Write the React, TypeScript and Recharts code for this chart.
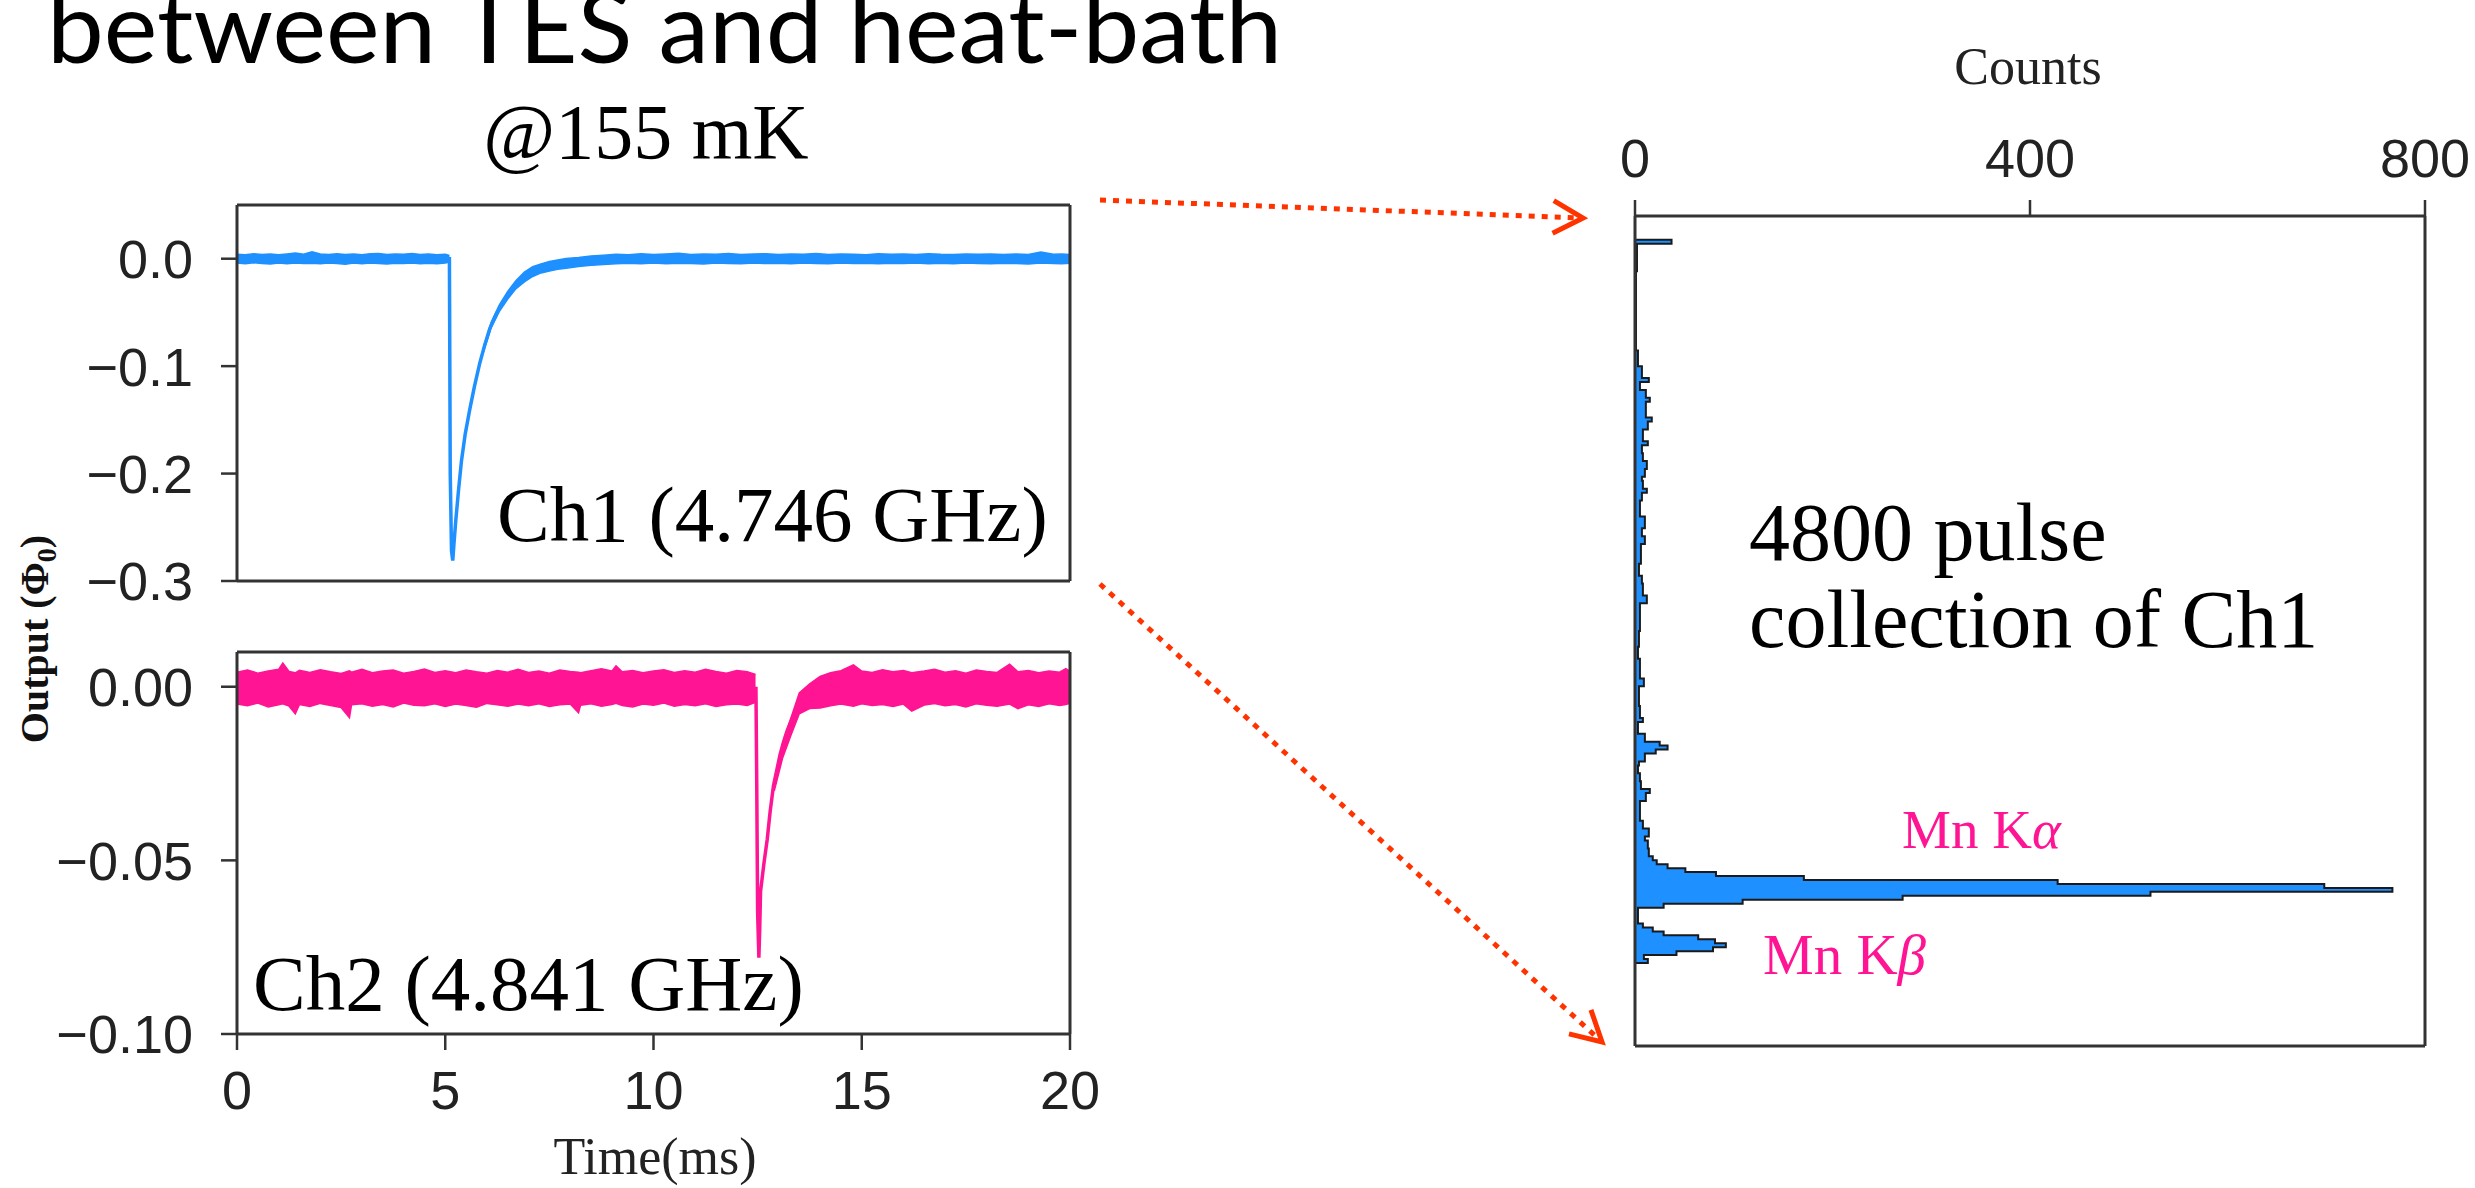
import React from 'react';
import { ComposedChart, Line, Area, XAxis, YAxis } from 'recharts';

const BLUE = '#1E90FF';
const PINK = '#FF1493';
const AXIS = '#333333';
const SANS = '"Liberation Sans", Arial, Helvetica, sans-serif';
const SERIF = '"Liberation Serif", "Times New Roman", serif';

// time axis (ms)
const timeTicks = [0, 5, 10, 15, 20];

// Ch1 (4.746 GHz) mean trace, output in Phi0
const ch1Time = [0, 5.10, 5.12, 5.15, 5.18, 5.21, 5.25, 5.32, 5.39, 5.48, 5.59, 5.70, 5.83, 5.95, 6.07, 6.23, 6.39, 6.55, 6.72, 6.95, 7.20, 7.55, 7.92, 8.40, 8.88, 10, 20];
const ch1Out = [0, 0, -0.20, -0.272, -0.281, -0.265, -0.245, -0.215, -0.188, -0.163, -0.140, -0.119, -0.097, -0.080, -0.065, -0.051, -0.040, -0.031, -0.023, -0.016, -0.011, -0.0065, -0.004, -0.002, -0.001, 0, 0];

// Ch1 noise envelope before the pulse
const ch1PreTime = [0, 0.2, 0.4, 0.6, 0.8, 1.0, 1.2, 1.4, 1.6, 1.8, 2.0, 2.2, 2.4, 2.6, 2.8, 3.0, 3.2, 3.4, 3.6, 3.8, 4.0, 4.2, 4.4, 4.6, 4.8, 5.0, 5.1];
const ch1PreHi = [0.0042, 0.0038, 0.0046, 0.0040, 0.0044, 0.0037, 0.0045, 0.0052, 0.0041, 0.0065, 0.0043, 0.0039, 0.0047, 0.0040, 0.0044, 0.0038, 0.0046, 0.0048, 0.0039, 0.0043, 0.0041, 0.0049, 0.0040, 0.0044, 0.0038, 0.0042, 0.0030];
const ch1PreLo = [-0.0040, -0.0046, -0.0038, -0.0044, -0.0050, -0.0041, -0.0047, -0.0039, -0.0045, -0.0042, -0.0048, -0.0040, -0.0044, -0.0051, -0.0041, -0.0046, -0.0039, -0.0045, -0.0049, -0.0042, -0.0044, -0.0040, -0.0047, -0.0043, -0.0048, -0.0041, -0.0030];

// Ch1 noise envelope after the pulse
const ch1PostTime = [5.9, 6.1, 6.3, 6.5, 6.7, 6.9, 7.1, 7.3, 7.5, 7.7, 7.9, 8.2, 8.5, 8.8, 9.1, 9.4, 9.7, 10.0, 10.3, 10.6, 10.9, 11.2, 11.5, 11.8, 12.1, 12.4, 12.7, 13.0, 13.3, 13.6, 13.9, 14.2, 14.5, 14.8, 15.1, 15.4, 15.7, 16.0, 16.3, 16.6, 16.9, 17.2, 17.5, 17.8, 18.1, 18.4, 18.7, 19.0, 19.3, 19.6, 19.8, 20];
const ch1PostHi = [-0.085, -0.0595, -0.043, -0.0305, -0.0202, -0.0125, -0.0075, -0.0048, -0.0025, -0.0012, 0.0002, 0.0012, 0.0025, 0.0033, 0.0042, 0.0038, 0.0047, 0.0040, 0.0044, 0.0050, 0.0039, 0.0045, 0.0041, 0.0048, 0.0040, 0.0043, 0.0046, 0.0039, 0.0044, 0.0041, 0.0048, 0.0040, 0.0045, 0.0042, 0.0038, 0.0046, 0.0041, 0.0044, 0.0039, 0.0047, 0.0042, 0.0040, 0.0045, 0.0041, 0.0043, 0.0039, 0.0044, 0.0040, 0.0062, 0.0041, 0.0045, 0.0040];
const ch1PostLo = [-0.089, -0.0645, -0.049, -0.0375, -0.0278, -0.0215, -0.0165, -0.0132, -0.0115, -0.0098, -0.0088, -0.0072, -0.0062, -0.0055, -0.0048, -0.0043, -0.0046, -0.0040, -0.0047, -0.0042, -0.0045, -0.0049, -0.0041, -0.0044, -0.0047, -0.0040, -0.0045, -0.0043, -0.0048, -0.0041, -0.0044, -0.0046, -0.0040, -0.0045, -0.0043, -0.0047, -0.0042, -0.0045, -0.0040, -0.0046, -0.0043, -0.0048, -0.0041, -0.0044, -0.0046, -0.0042, -0.0045, -0.0049, -0.0041, -0.0044, -0.0046, -0.0042];

// Ch2 (4.841 GHz) mean trace
const ch2Time = [0, 12.46, 12.48, 12.50, 12.53, 12.55, 12.57, 12.65, 12.73, 12.80, 12.88, 12.96, 13.04, 13.12, 13.20, 13.28, 13.36, 13.44, 13.52, 13.70, 13.90, 14.10, 14.50, 20];
const ch2Out = [-0.0005, -0.0005, -0.03, -0.065, -0.078, -0.070, -0.059, -0.051, -0.044, -0.036, -0.0285, -0.024, -0.0195, -0.016, -0.013, -0.0105, -0.0083, -0.006, -0.0044, -0.003, -0.002, -0.0012, -0.0005, -0.0005];

// Ch2 noise envelope before the pulse
const ch2PreTime = [0, 0.25, 0.5, 0.75, 1.0, 1.1, 1.25, 1.4, 1.5, 1.75, 2.0, 2.25, 2.5, 2.7, 2.75, 3.0, 3.25, 3.5, 3.75, 4.0, 4.25, 4.5, 4.75, 5.0, 5.25, 5.5, 5.75, 6.0, 6.25, 6.5, 6.75, 7.0, 7.25, 7.5, 7.75, 8.0, 8.2, 8.25, 8.5, 8.75, 9.0, 9.1, 9.25, 9.5, 9.75, 10.0, 10.25, 10.5, 10.75, 11.0, 11.25, 11.5, 11.75, 12.0, 12.25, 12.45];
const ch2PreHi = [0.0042, 0.0048, 0.0039, 0.0045, 0.0050, 0.0068, 0.0044, 0.0040, 0.0047, 0.0041, 0.0049, 0.0043, 0.0038, 0.0046, 0.0042, 0.0050, 0.0040, 0.0045, 0.0048, 0.0039, 0.0044, 0.0051, 0.0041, 0.0046, 0.0040, 0.0048, 0.0043, 0.0039, 0.0047, 0.0042, 0.0050, 0.0041, 0.0045, 0.0039, 0.0048, 0.0044, 0.0042, 0.0040, 0.0046, 0.0052, 0.0045, 0.0060, 0.0043, 0.0047, 0.0040, 0.0045, 0.0049, 0.0041, 0.0046, 0.0042, 0.0050, 0.0044, 0.0039, 0.0047, 0.0043, 0.0035];
const ch2PreLo = [-0.0050, -0.0055, -0.0047, -0.0058, -0.0052, -0.0049, -0.0056, -0.0078, -0.0051, -0.0057, -0.0048, -0.0054, -0.0060, -0.0089, -0.0052, -0.0049, -0.0056, -0.0051, -0.0058, -0.0047, -0.0053, -0.0055, -0.0049, -0.0057, -0.0050, -0.0054, -0.0059, -0.0048, -0.0052, -0.0056, -0.0050, -0.0055, -0.0049, -0.0057, -0.0052, -0.0050, -0.0075, -0.0053, -0.0049, -0.0056, -0.0051, -0.0048, -0.0054, -0.0058, -0.0050, -0.0053, -0.0047, -0.0056, -0.0051, -0.0055, -0.0049, -0.0057, -0.0052, -0.0050, -0.0054, -0.0045];

// Ch2 noise envelope after the pulse
const ch2PostTime = [12.9, 13.1, 13.3, 13.5, 13.75, 14.0, 14.25, 14.5, 14.8, 15.0, 15.25, 15.5, 15.75, 16.0, 16.2, 16.5, 16.75, 17.0, 17.25, 17.5, 17.75, 18.0, 18.25, 18.55, 18.75, 19.0, 19.25, 19.5, 19.75, 19.9, 20];
const ch2PostHi = [-0.027, -0.0165, -0.009, -0.0018, 0.0008, 0.0030, 0.0040, 0.0046, 0.0063, 0.0045, 0.0041, 0.0049, 0.0043, 0.0047, 0.0040, 0.0045, 0.0050, 0.0042, 0.0046, 0.0039, 0.0048, 0.0044, 0.0041, 0.0065, 0.0043, 0.0047, 0.0040, 0.0045, 0.0042, 0.0052, 0.0044];
const ch2PostLo = [-0.030, -0.0205, -0.014, -0.0078, -0.0063, -0.0061, -0.0055, -0.0050, -0.0056, -0.0049, -0.0054, -0.0051, -0.0057, -0.0050, -0.0070, -0.0053, -0.0048, -0.0055, -0.0051, -0.0058, -0.0049, -0.0053, -0.0056, -0.0050, -0.0063, -0.0052, -0.0057, -0.0049, -0.0054, -0.0051, -0.0048];

// histogram of 4800 Ch1 pulses: bin index (lower edge of a run) and counts
const histBin = [21, 22, 23, 24, 25, 26, 27, 28, 29, 30, 31, 35, 36, 37, 38, 39, 40, 41, 42, 43, 44, 45, 46, 47, 48, 50, 52, 53, 55, 57, 62, 64, 65, 67, 69, 71, 72, 74, 75, 76, 77, 79, 82, 83, 86, 91, 93, 98, 101, 105, 112, 114, 117, 119, 122, 127, 129, 131, 134, 138, 140, 141, 143, 144, 146, 148, 150, 152, 153, 156, 158, 159, 163, 164, 166, 168, 169, 172, 176, 196, 203];
const histCount = [13, 9, 42, 79, 92, 81, 64, 29, 18, 8, 3, 29, 109, 271, 522, 767, 698, 428, 171, 82, 51, 33, 22, 18, 14, 13, 10, 14, 8, 5, 11, 15, 6, 5, 3, 4, 10, 21, 33, 25, 10, 3, 8, 5, 4, 9, 5, 3, 4, 5, 12, 8, 7, 4, 6, 10, 7, 10, 5, 7, 12, 8, 7, 10, 12, 8, 7, 13, 8, 13, 17, 11, 15, 11, 5, 14, 7, 3, 1, 2, 37];
const histEnd = 204;
const histBinTicks = [30, 60, 90, 120, 150, 180, 210];
const countTicks = [0, 400, 800];

const ch1Data = ch1Time.map((t, i) => ({ t, v: ch1Out[i] }));
const ch2Data = ch2Time.map((t, i) => ({ t, v: ch2Out[i] }));
const band = (ts: number[], lo: number[], hi: number[]) => ts.map((t, i) => ({ t, r: [lo[i], hi[i]] }));
const ch1Pre = band(ch1PreTime, ch1PreLo, ch1PreHi);
const ch1Post = band(ch1PostTime, ch1PostLo, ch1PostHi);
const ch2Pre = band(ch2PreTime, ch2PreLo, ch2PreHi);
const ch2Post = band(ch2PostTime, ch2PostLo, ch2PostHi);

// stepped outline for the histogram
const histData: { b: number; c: number }[] = [{ b: histBin[0], c: 0 }];
histBin.forEach((b, i) => {
  const top = i + 1 < histBin.length ? histBin[i + 1] : histEnd;
  histData.push({ b, c: histCount[i] }, { b: top, c: histCount[i] });
});
histData.push({ b: histEnd, c: 0 });

const fmt = (v: number, digits: number) => (v < -1e-9 ? '\u2212' : '') + Math.abs(v).toFixed(digits);

const LeftTick = (props: any) => {
  const { x, y, payload, digits } = props;
  return (
    <text x={x} y={y} dy="0.36em" textAnchor="end" fontFamily={SANS} fontSize={54} fill="#222">
      {fmt(payload.value, digits)}
    </text>
  );
};

const BottomTick = (props: any) => {
  const { x, y, payload } = props;
  return (
    <text x={x} y={y} dy="0.72em" textAnchor="middle" fontFamily={SANS} fontSize={54} fill="#222">
      {payload.value}
    </text>
  );
};

const TopTick = (props: any) => {
  const { x, y, payload } = props;
  return (
    <text x={x} y={y} textAnchor="middle" fontFamily={SANS} fontSize={54} fill="#222">
      {payload.value}
    </text>
  );
};

const axisLine = { stroke: AXIS, strokeWidth: 3 };
const tickLine = { stroke: AXIS, strokeWidth: 2.5 };

const Arrow = ({ x1, y1, x2, y2 }: { x1: number; y1: number; x2: number; y2: number }) => {
  const a = Math.atan2(y2 - y1, x2 - x1);
  const len = 34;
  const spread = 0.5;
  const h1 = [x2 - len * Math.cos(a - spread), y2 - len * Math.sin(a - spread)];
  const h2 = [x2 - len * Math.cos(a + spread), y2 - len * Math.sin(a + spread)];
  return (
    <g stroke="#FF3300" fill="none">
      <line x1={x1} y1={y1} x2={x2 - 6 * Math.cos(a)} y2={y2 - 6 * Math.sin(a)} strokeWidth={5} strokeDasharray="6 7" />
      <polyline points={`${h1[0]},${h1[1]} ${x2},${y2} ${h2[0]},${h2[1]}`} strokeWidth={5} strokeLinejoin="miter" />
    </g>
  );
};

const TracePanel = ({ pre, post, line, color, domain, ticks, digits, height, bottomLabels }: any) => (
  <ComposedChart width={1063} height={height} margin={{ top: 0, right: 0, bottom: 0, left: 0 }}>
    <XAxis
      dataKey="t"
      type="number"
      domain={[0, 20]}
      ticks={timeTicks}
      height={bottomLabels ? 120 : 30}
      axisLine={axisLine}
      tickLine={tickLine}
      tickSize={16}
      tickMargin={20}
      tick={bottomLabels ? <BottomTick /> : false}
    />
    <XAxis xAxisId="top" orientation="top" type="number" domain={[0, 20]} ticks={timeTicks} height={30} axisLine={axisLine} tickLine={tickLine} tickSize={16} tick={false} />
    <YAxis type="number" domain={domain} ticks={ticks} width={200} axisLine={axisLine} tickLine={tickLine} tickSize={16} tickMargin={28} tick={<LeftTick digits={digits} />} />
    <YAxis yAxisId="r" orientation="right" type="number" domain={domain} ticks={ticks} width={30} axisLine={axisLine} tickLine={tickLine} tickSize={18} tick={false} />
    <Area data={pre} dataKey="r" type="linear" stroke={color} strokeWidth={1.5} fill={color} fillOpacity={1} isAnimationActive={false} />
    <Area data={post} dataKey="r" type="linear" stroke={color} strokeWidth={1.5} fill={color} fillOpacity={1} isAnimationActive={false} />
    <Line data={line} dataKey="v" type="linear" stroke={color} strokeWidth={3.5} dot={false} isAnimationActive={false} />
  </ComposedChart>
);

export default function App() {
  return (
    <div style={{ position: 'absolute', left: 0, top: 0, width: 2475, height: 1188, background: '#fff', overflow: 'hidden' }}>
      <div style={{ position: 'absolute', left: 37, top: 175 }}>
        <TracePanel pre={ch1Pre} post={ch1Post} line={ch1Data} color={BLUE} domain={[-0.3, 0.05]} ticks={[-0.3, -0.2, -0.1, 0]} digits={1} height={436} bottomLabels={false} />
      </div>
      <div style={{ position: 'absolute', left: 37, top: 622 }}>
        <TracePanel pre={ch2Pre} post={ch2Post} line={ch2Data} color={PINK} domain={[-0.1, 0.01]} ticks={[-0.1, -0.05, 0]} digits={2} height={532} bottomLabels={true} />
      </div>
      <div style={{ position: 'absolute', left: 1605, top: 96 }}>
        <ComposedChart layout="vertical" width={870} height={980} data={histData} margin={{ top: 0, right: 20, bottom: 0, left: 0 }}>
          <XAxis xAxisId="top" orientation="top" type="number" domain={[0, 800]} ticks={countTicks} height={120} axisLine={axisLine} tickLine={tickLine} tickSize={16} tickMargin={23} tick={<TopTick />} />
          <XAxis type="number" domain={[0, 800]} ticks={countTicks} height={30} axisLine={axisLine} tickLine={tickLine} tickSize={16} tick={false} />
          <YAxis dataKey="b" type="number" reversed domain={[0, 210]} ticks={histBinTicks} width={30} axisLine={axisLine} tickLine={tickLine} tickSize={18} tick={false} />
          <YAxis yAxisId="r" orientation="right" type="number" reversed domain={[0, 210]} ticks={histBinTicks} width={30} axisLine={axisLine} tickLine={tickLine} tickSize={18} tick={false} />
          <Area xAxisId="top" dataKey="c" type="linear" stroke="#1a1a1a" strokeWidth={2} fill={BLUE} fillOpacity={1} isAnimationActive={false} />
        </ComposedChart>
      </div>
      <svg width={2475} height={1188} style={{ position: 'absolute', left: 0, top: 0, pointerEvents: 'none' }}>
        <text x={47} y={63} fontFamily='Lato, "Open Sans", sans-serif' fontSize={98} textLength={1235} lengthAdjust="spacingAndGlyphs" fill="#000">
          between TES and heat-bath
        </text>
        <text x={646} y={158} textAnchor="middle" fontFamily={SERIF} fontSize={78} fill="#000">@155 mK</text>
        <text x={497} y={541} fontFamily={SERIF} fontSize={79} fill="#000">Ch1 (4.746 GHz)</text>
        <text x={253} y={1010} fontFamily={SERIF} fontSize={79} fill="#000">Ch2 (4.841 GHz)</text>
        <text x={655} y={1174} textAnchor="middle" fontFamily={SERIF} fontSize={52} fill="#222">Time(ms)</text>
        <text transform="translate(48,639) rotate(-90)" textAnchor="middle" fontFamily={SERIF} fontSize={40} fontWeight="bold" fill="#111">
          Output (Φ<tspan fontSize={28} dy={8}>0</tspan><tspan dy={-8}>)</tspan>
        </text>
        <text x={2028} y={84} textAnchor="middle" fontFamily={SERIF} fontSize={52} fill="#222">Counts</text>
        <text x={1749} y={560} fontFamily={SERIF} fontSize={82} fill="#000">4800 pulse</text>
        <text x={1749} y={647} fontFamily={SERIF} fontSize={82} fill="#000">collection of Ch1</text>
        <text x={1902} y={848} fontFamily={SERIF} fontSize={55} fill={PINK}>
          Mn K<tspan fontStyle="italic">α</tspan>
        </text>
        <text x={1763} y={974} fontFamily={SERIF} fontSize={57} fill={PINK}>
          Mn K<tspan fontStyle="italic">β</tspan>
        </text>
        <Arrow x1={1100} y1={200} x2={1583} y2={218} />
        <Arrow x1={1100} y1={584} x2={1602} y2={1042} />
      </svg>
    </div>
  );
}
